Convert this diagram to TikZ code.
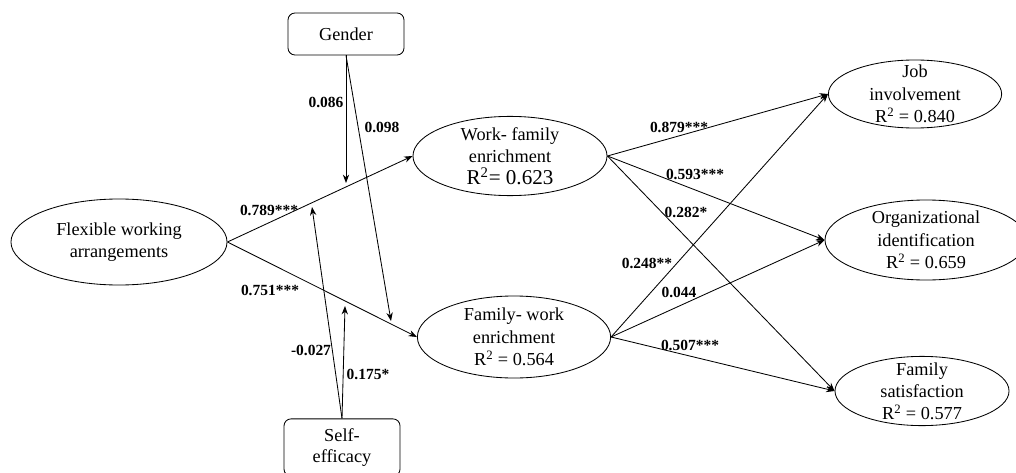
\documentclass[tikz,border=0pt]{standalone}
\usepackage{fontspec}
\setmainfont{Liberation Serif}
\usetikzlibrary{shapes.geometric,arrows.meta}

\tikzset{
  latent/.style={draw,ellipse,inner sep=0pt,line width=0.6pt},
  moderator/.style={draw,rectangle,rounded corners=5pt,inner sep=0pt,minimum width=2.9cm,line width=0.6pt,align=center,font=\fontsize{13}{15.5}\selectfont},
  txt/.style={align=center,inner sep=0pt,font=\fontsize{13}{15.8}\selectfont},
  coef/.style={inner sep=1pt,font=\fontsize{11}{13}\selectfont\bfseries},
  effect/.style={-{Stealth[length=6pt,width=4.5pt]},line width=0.6pt}
}

\begin{document}
\begin{tikzpicture}[x=0.025cm,y=-0.025cm]
\useasboundingbox (0,0) rectangle (1016,472);

% constructs
\node[latent,minimum width=5.4cm,minimum height=2.15cm] (FWA) at (119,242) {};
\node[txt] (FWAtext) at (FWA) {Flexible working\\arrangements};
\node[latent,minimum width=4.85cm,minimum height=1.98cm] (WFE) at (510,156) {};
\node[txt] (WFEtext) at (WFE) {Work- family\\enrichment\\{\fontsize{15}{16}\selectfont R\textsuperscript{2}= 0.623}};
\node[latent,minimum width=4.83cm,minimum height=2.05cm] (FWE) at (514,337) {};
\node[txt] (FWEtext) at (FWE) {Family- work\\enrichment\\R\textsuperscript{2} = 0.564};
\node[latent,minimum width=4.33cm,minimum height=1.7cm] (JI) at (915,94) {};
\node[txt] (JItext) at (JI) {Job\\involvement\\R\textsuperscript{2} = 0.840};
\node[latent,minimum width=5.05cm,minimum height=2.0cm] (OI) at (926,240) {};
\node[txt] (OItext) at (OI) {Organizational\\identification\\R\textsuperscript{2} = 0.659};
\node[latent,minimum width=4.35cm,minimum height=1.73cm] (FS) at (922,391) {};
\node[txt] (FStext) at (FS) {Family\\satisfaction\\R\textsuperscript{2} = 0.577};

% moderators
\node[moderator,minimum height=1.05cm] (Gender) at (346,34) {Gender};
\node[moderator,minimum height=1.43cm] (SE) at (342,447.5) {Self-\\efficacy};

% direct paths
\draw[effect] (FWA.east) -- (WFE.west);
\draw[effect] (FWA.east) -- (FWE.west);
\draw[effect] (WFE.east) -- (JI.west);
\draw[effect] (WFE.east) -- (OI.west);
\draw[effect] (WFE.east) -- (FS.west);
\draw[effect] (FWE.east) -- (JI.west);
\draw[effect] (FWE.east) -- (OI.west);
\draw[effect] (FWE.east) -- (FS.west);

% moderating paths
\coordinate (GW) at (346,183);
\coordinate (GF) at (391,321);
\coordinate (SW) at (312,207);
\coordinate (SF) at (345,306);
\draw[effect] (Gender.south) -- (GW);
\draw[effect] (Gender.south) -- (GF);
\draw[effect] (SE.north) -- (SW);
\draw[effect] (SE.north) -- (SF);

% coefficients
\node[coef] (cGW) at (326,102) {0.086};
\node[coef] (cGF) at (382,127) {0.098};
\node[coef] (cFW) at (269,210) {0.789***};
\node[coef] (cFF) at (270,290) {0.751***};
\node[coef] (cSW) at (311,350) {-0.027};
\node[coef] (cSF) at (368,374) {0.175*};
\node[coef] (cWJ) at (679,127) {0.879***};
\node[coef] (cWO) at (695,174) {0.593***};
\node[coef] (cWS) at (686,212) {0.282*};
\node[coef] (cFJ) at (647,263) {0.248**};
\node[coef] (cFO) at (679,292) {0.044};
\node[coef] (cFS) at (690,345) {0.507***};
\end{tikzpicture}
\end{document}
